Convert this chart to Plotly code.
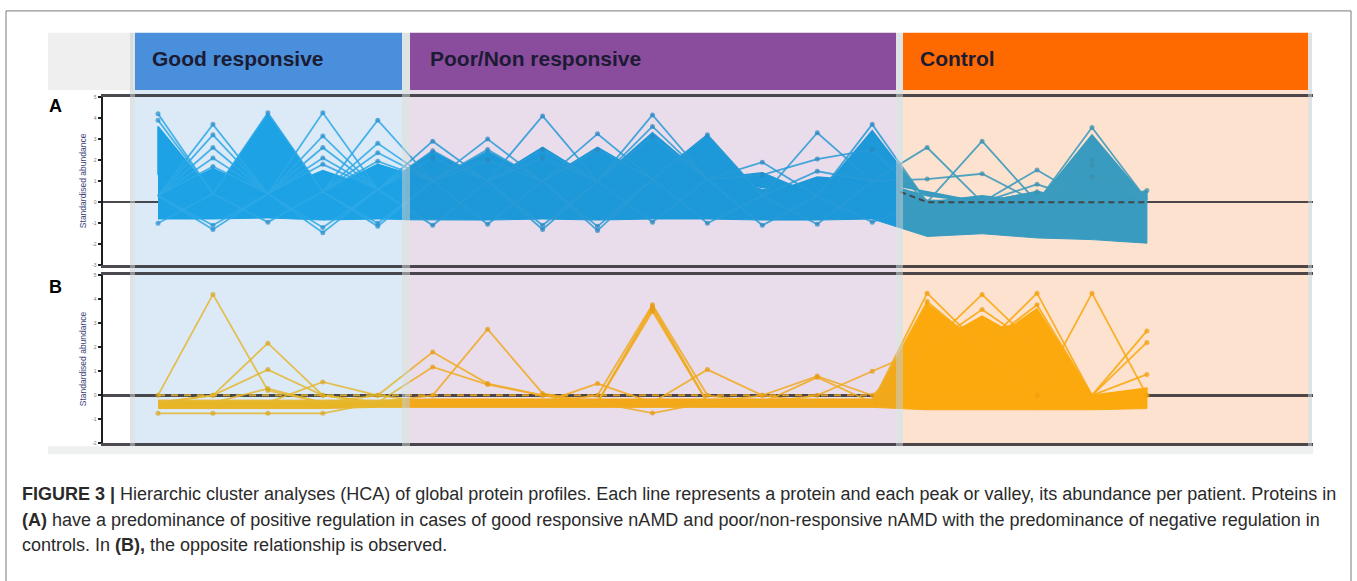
import plotly.graph_objects as go

W, H = 1357, 581

# ---------------------------------------------------------------- data ----
patients = list(range(19))          # 5 good, 9 poor/non, 5 control
group_names = ["Good responsive", "Poor/Non responsive", "Control"]
panel_labels = ["A", "B"]

# Panel A: bulk of the profiles (upper edge, typical level, lower edge)
a_top = [1.3, 1.3, 1.2, 1.0, 1.1,
         1.6, 1.6, 1.5, 1.6, 1.6, 1.5, 0.6, 0.6, 1.3,
         0.1, 0.05, 0.1, 0.15, 0.2]
a_mid = [0.3, 0.4, 0.4, 0.5, 0.6,
         1.0, 1.0, 1.0, 1.0, 1.1, 1.1, 0.3, 0.3, 1.0,
         0.0, 0.0, 0.0, 0.0, 0.1]
a_floor = [-0.8, -0.8, -0.75, -0.85, -0.8,
           -0.85, -0.85, -0.8, -0.85, -0.8, -0.8, -0.85, -0.85, -0.8,
           -1.63, -1.5, -1.7, -1.78, -1.95]
# dense bundles of proteins peaking at one patient
a_solid = [3.6, 1.6, 4.2, 1.5, 1.8,
           2.4, 2.4, 2.6, 2.6, 3.3, 3.2, 1.4, 1.2, 3.4,
           0.3, 0.3, 0.5, 3.2, 0.5]
# individual protein profiles (patient -> abundance), elsewhere at a_mid
a_lines = [
    {0: 4.2}, {0: 3.9},
    {1: 3.7}, {1: 3.2}, {1: 2.6}, {1: 2.1}, {1: 1.7},
    {2: 4.25},
    {3: 4.25}, {3: 3.15}, {3: 2.6}, {3: 2.1}, {3: 1.8},
    {4: 3.9}, {4: 2.8}, {4: 2.35}, {4: 1.95},
    {5: 2.9}, {5: 2.45}, {5: 2.1},
    {6: 3.0}, {6: 2.5}, {6: 2.0},
    {7: 4.1}, {7: 2.5}, {7: 2.1},
    {8: 3.25}, {8: 2.5},
    {9: 4.15}, {9: 3.6}, {9: 3.1},
    {10: 3.2},
    {11: 1.9},
    {12: 3.3}, {12: 1.47}, {11: 1.3, 12: 2.05, 13: 2.5},
    {13: 3.7},
    {14: 2.6}, {14: 1.1, 15: 1.35},
    {15: 2.9},
    {16: 1.53}, {16: 0.85}, {16: 0.5},
    {17: 3.55}, {17: 2.0}, {17: 1.75}, {17: 1.2},
    {18: 0.55},
    {0: -1.0}, {1: -1.3}, {1: -1.1}, {2: -0.95}, {3: -1.45}, {3: -1.2},
    {4: -1.15}, {4: -1.0}, {5: -1.1}, {6: -1.05}, {7: -1.3}, {7: -1.1},
    {8: -1.35}, {8: -1.15}, {9: -0.95}, {10: -1.0}, {11: -1.1},
    {12: -1.05}, {13: -0.95},
]
a_zero_profile = {14: 0.0, 15: 0.0, 16: 0.0, 17: 0.0, 18: 0.0}

# Panel B
b_top = [-0.2, -0.2, -0.2, -0.2, -0.2,
         -0.15, -0.15, -0.15, -0.15, -0.15, -0.15, -0.15, -0.15, -0.15,
         3.0, 2.7, 3.1, 0.0, 0.0]
b_mid = [-0.3, -0.3, -0.3, -0.3, -0.3,
         -0.3, -0.3, -0.3, -0.3, -0.3, -0.3, -0.3, -0.3, -0.3,
         2.0, 2.0, 2.0, 0.0, -0.1]
b_floor = [-0.55, -0.55, -0.55, -0.55, -0.5,
           -0.5, -0.5, -0.5, -0.5, -0.5, -0.5, -0.5, -0.5, -0.5,
           -0.6, -0.6, -0.6, -0.6, -0.55]
b_solid = [-0.2, -0.2, -0.2, -0.2, -0.2,
           -0.15, -0.15, -0.15, -0.15, -0.15, -0.15, -0.15, -0.15, -0.15,
           3.8, 3.3, 3.6, 0.0, 0.3]
b_lines = [
    {0: 0.0, 1: 4.2, 2: 0.2},
    {1: 0.0, 2: 2.17, 3: 0.0}, {1: 0.0, 2: 1.07, 3: 0.0}, {2: 0.28},
    {3: 0.56, 4: 0.0},
    {0: -0.75, 1: -0.75, 2: -0.75, 3: -0.75},
    {4: 0.0, 5: 1.8, 6: 0.49, 7: 0.0}, {5: 1.18, 6: 0.45, 7: 0.0},
    {5: 0.0, 6: 2.75, 7: 0.08},
    {8: 0.49},
    {8: 0.0, 9: 3.77, 10: 0.0}, {9: 3.7}, {9: 3.6}, {9: 3.5},
    {9: -0.74},
    {10: 1.07, 11: 0.0},
    {11: 0.0, 12: 0.8, 13: 0.0}, {12: 0.75},
    {12: 0.0, 13: 1.0},
    {14: 4.25}, {14: 3.9}, {15: 4.2}, {15: 3.57},
    {16: 4.25}, {16: 3.77}, {16: 0.0, 17: 4.25, 18: 0.0},
    {18: 2.68}, {18: 2.2}, {18: 0.87},
]
b_zero_profile = {0: 0.0, 1: 0.0, 2: 0.0, 3: 0.0, 4: 0.0, 5: 0.0, 6: 0.0,
                  7: 0.0, 8: 0.0, 9: 0.0, 10: 0.0, 11: 0.0, 12: 0.0, 13: 0.0,
                  14: 0.0, 15: 0.0, 16: 0.0, 17: 0.0, 18: 0.0}

a_ticks = [-3, -2, -1, 0, 1, 2, 3, 4, 5]
b_ticks = [-2, -1, 0, 1, 2, 3, 4, 5]

caption_lines = [
    "<b>FIGURE 3 |</b> Hierarchic cluster analyses (HCA) of global protein profiles. "
    "Each line represents a protein and each peak or valley, its abundance per patient. Proteins in",
    "<b>(A)</b> have a predominance of positive regulation in cases of good responsive nAMD and "
    "poor/non-responsive nAMD with the predominance of negative regulation in",
    "controls. In <b>(B),</b> the opposite relationship is observed.",
]

# ------------------------------------------------------------- styling ----
A_FILL = ["#1ca2e5", "#1d98d8", "#389bbf"]
A_LINE = ["rgba(45,168,230,0.85)", "rgba(40,155,215,0.85)", "rgba(62,156,190,0.9)"]
A_MARK = ["#2b8fcb", "#2a86c0", "#3a8fad"]
B_FILL = ["#e8b526", "#f2a819", "#fba90d"]
B_LINE = ["rgba(228,183,48,0.85)", "rgba(240,170,32,0.85)", "rgba(250,170,20,0.9)"]
B_MARK = ["#d9a520", "#e69a12", "#f09c08"]
AXIS_DARK = "rgba(45,42,48,0.85)"

# pixel geometry of the panels
X0_PX, STEP_PX = 158.0, 54.94
COL_PX = [(103, 406), (406, 900), (900, 1313)]
ROWS = [dict(top=95, bottom=265, rng=(-3, 5), ticks=a_ticks),
        dict(top=275, bottom=445, rng=(-2, 5), ticks=b_ticks)]


def fx(p):
    return p / W


def fy(p):
    return 1 - p / H


def profile_path(overrides, base):
    ks = sorted(overrides)
    lo, hi = max(ks[0] - 1, 0), min(ks[-1] + 1, len(patients) - 1)
    xs = patients[lo:hi + 1]
    ys = [overrides.get(k, base[k]) for k in xs]
    sizes = [5 if k in overrides else 0 for k in xs]
    return xs, ys, sizes


def panel_traces(top, mid, floor, solid, lines, fills, line_cols, marks,
                 xa, ya, col):
    out = []
    # bulk of the profiles
    out.append(go.Scatter(
        x=patients + patients[::-1], y=top + floor[::-1],
        fill="toself", fillcolor=fills[col], mode="lines",
        line=dict(color=fills[col], width=1), hoverinfo="skip",
        xaxis=xa, yaxis=ya))
    # dense single-patient peaks
    tx, ty = [], []
    n = len(patients)
    for j in patients:
        if solid[j] <= top[j]:
            continue
        left = (j - 1, mid[j - 1]) if j > 0 else (j, top[j])
        right = (j + 1, mid[j + 1]) if j < n - 1 else (j, top[j])
        tx += [left[0], j, right[0], left[0], None]
        ty += [left[1], solid[j], right[1], left[1], None]
    if tx:
        out.append(go.Scatter(
            x=tx, y=ty, fill="toself", fillcolor=fills[col], mode="lines",
            line=dict(color=fills[col], width=1.5), hoverinfo="skip",
            xaxis=xa, yaxis=ya))
    # individual proteins
    lx, ly, ls = [], [], []
    for ov in lines:
        xs, ys, ss = profile_path(ov, mid)
        lx += xs + [None]
        ly += ys + [None]
        ls += ss + [0]
    out.append(go.Scatter(
        x=lx, y=ly, mode="lines+markers",
        line=dict(color=line_cols[col], width=1.8),
        marker=dict(size=ls, color=marks[col], line=dict(width=0)),
        hoverinfo="skip", xaxis=xa, yaxis=ya))
    return out


fig = go.Figure()
layout = {}
panels = [
    (a_top, a_mid, a_floor, a_solid, a_lines, A_FILL, A_LINE, A_MARK),
    (b_top, b_mid, b_floor, b_solid, b_lines, B_FILL, B_LINE, B_MARK),
]
for r, (row, pdata) in enumerate(zip(ROWS, panels)):
    for c, (l_px, r_px) in enumerate(COL_PX):
        k = r * 3 + c + 1
        sfx = "" if k == 1 else str(k)
        xa, ya = "x" + sfx, "y" + sfx
        layout["xaxis" + sfx] = dict(
            domain=[fx(l_px), fx(r_px)],
            range=[(l_px - X0_PX) / STEP_PX, (r_px - X0_PX) / STEP_PX],
            anchor=ya, showline=True, mirror=True, linecolor=AXIS_DARK,
            linewidth=3, showgrid=False, zeroline=False,
            showticklabels=False, ticks="", fixedrange=True)
        layout["yaxis" + sfx] = dict(
            domain=[fy(row["bottom"]), fy(row["top"])],
            range=list(row["rng"]), anchor=xa, showgrid=False,
            zeroline=True, zerolinecolor=AXIS_DARK, zerolinewidth=2.5,
            showline=(c == 0), linecolor="#1e1e1e", linewidth=2.5,
            ticks="outside" if c == 0 else "", ticklen=3, tickwidth=2,
            tickcolor="#1e1e1e", tickvals=row["ticks"],
            ticktext=[str(t) for t in row["ticks"]],
            showticklabels=(c == 0),
            tickfont=dict(size=5, color="#777777", family="Liberation Sans"),
            fixedrange=True)
        for t in panel_traces(*pdata, xa=xa, ya=ya, col=c):
            fig.add_trace(t)
        # level-zero profiles drawn as dashes along the zero line
        if r == 0 and c == 2:
            xs, ys, _ = profile_path(a_zero_profile, a_mid)
            fig.add_trace(go.Scatter(
                x=xs, y=ys, mode="lines", hoverinfo="skip",
                line=dict(color="rgba(70,55,50,0.85)", width=2, dash="6px,4px"),
                xaxis=xa, yaxis=ya))
        if r == 1:
            xs, ys, _ = profile_path(b_zero_profile, b_mid)
            fig.add_trace(go.Scatter(
                x=xs, y=ys, mode="lines", hoverinfo="skip",
                line=dict(color=B_LINE[c], width=2, dash="7px,6px"),
                xaxis=xa, yaxis=ya))

# ------------------------------------------------------------- shapes ----
def rect(x0, y0, x1, y1, fill, layer="below", line=None):
    return dict(type="rect", xref="paper", yref="paper",
                x0=fx(x0), x1=fx(x1), y0=fy(y1), y1=fy(y0),
                fillcolor=fill, layer=layer,
                line=line or dict(width=0))


shapes = [
    rect(6, 8, 1351, 600, "rgba(0,0,0,0)",
         line=dict(color="#7a7a7a", width=1)),
    rect(48, 30, 133, 88, "#efefef"),
    rect(135, 30, 402, 88, "#4a8fdb"),
    rect(410, 30, 896, 88, "#8a4c9c"),
    rect(903, 30, 1308, 88, "#ff6a00"),
    rect(135, 88, 402, 448, "#dce9f7"),
    rect(410, 88, 896, 448, "#e9dceb"),
    rect(903, 88, 1308, 448, "#fde2cf"),
    rect(48, 448, 1313, 456, "#eef0f0"),
]
for x0, x1 in [(130, 135), (402, 410), (896, 903), (1308, 1312)]:
    shapes.append(rect(x0, 30, x1, 448, "rgba(196,204,204,0.55)", layer="above"))

# -------------------------------------------------------- annotations ----
ann = []
for name, x in zip(group_names, [150, 428, 918]):
    ann.append(dict(text=name, x=fx(x), y=fy(56), xref="paper", yref="paper",
                    xanchor="left", yanchor="middle", showarrow=False,
                    font=dict(family="Liberation Sans", size=21,
                              color="#1b1b33", weight="bold")))
for lab, y in zip(panel_labels, [104, 287]):
    ann.append(dict(text="<b>%s</b>" % lab, x=fx(47), y=fy(y), xref="paper",
                    yref="paper", xanchor="left", yanchor="middle",
                    showarrow=False,
                    font=dict(family="Liberation Sans", size=18, color="#000")))
for y in [180, 360]:
    ann.append(dict(text="Standardised abundance", x=fx(83), y=fy(y),
                    xref="paper", yref="paper", textangle=-90,
                    xanchor="center", yanchor="middle", showarrow=False,
                    font=dict(family="Liberation Sans", size=8.5,
                              color="#3c3f78")))
for txt, y in zip(caption_lines, [496, 522, 548]):
    ann.append(dict(text=txt, x=fx(20), y=fy(y), xref="paper", yref="paper",
                    xanchor="left", yanchor="middle", showarrow=False,
                    font=dict(family="Liberation Sans", size=18,
                              color="#2a2a2a")))

layout.update(
    width=W, height=H, autosize=False,
    margin=dict(l=0, r=0, t=0, b=0, pad=0),
    paper_bgcolor="white", plot_bgcolor="rgba(0,0,0,0)",
    showlegend=False, shapes=shapes, annotations=ann,
)
fig.update_layout(**layout)
fig.write_html("out.html", include_plotlyjs=True,
               config={"displayModeBar": False, "staticPlot": True})
